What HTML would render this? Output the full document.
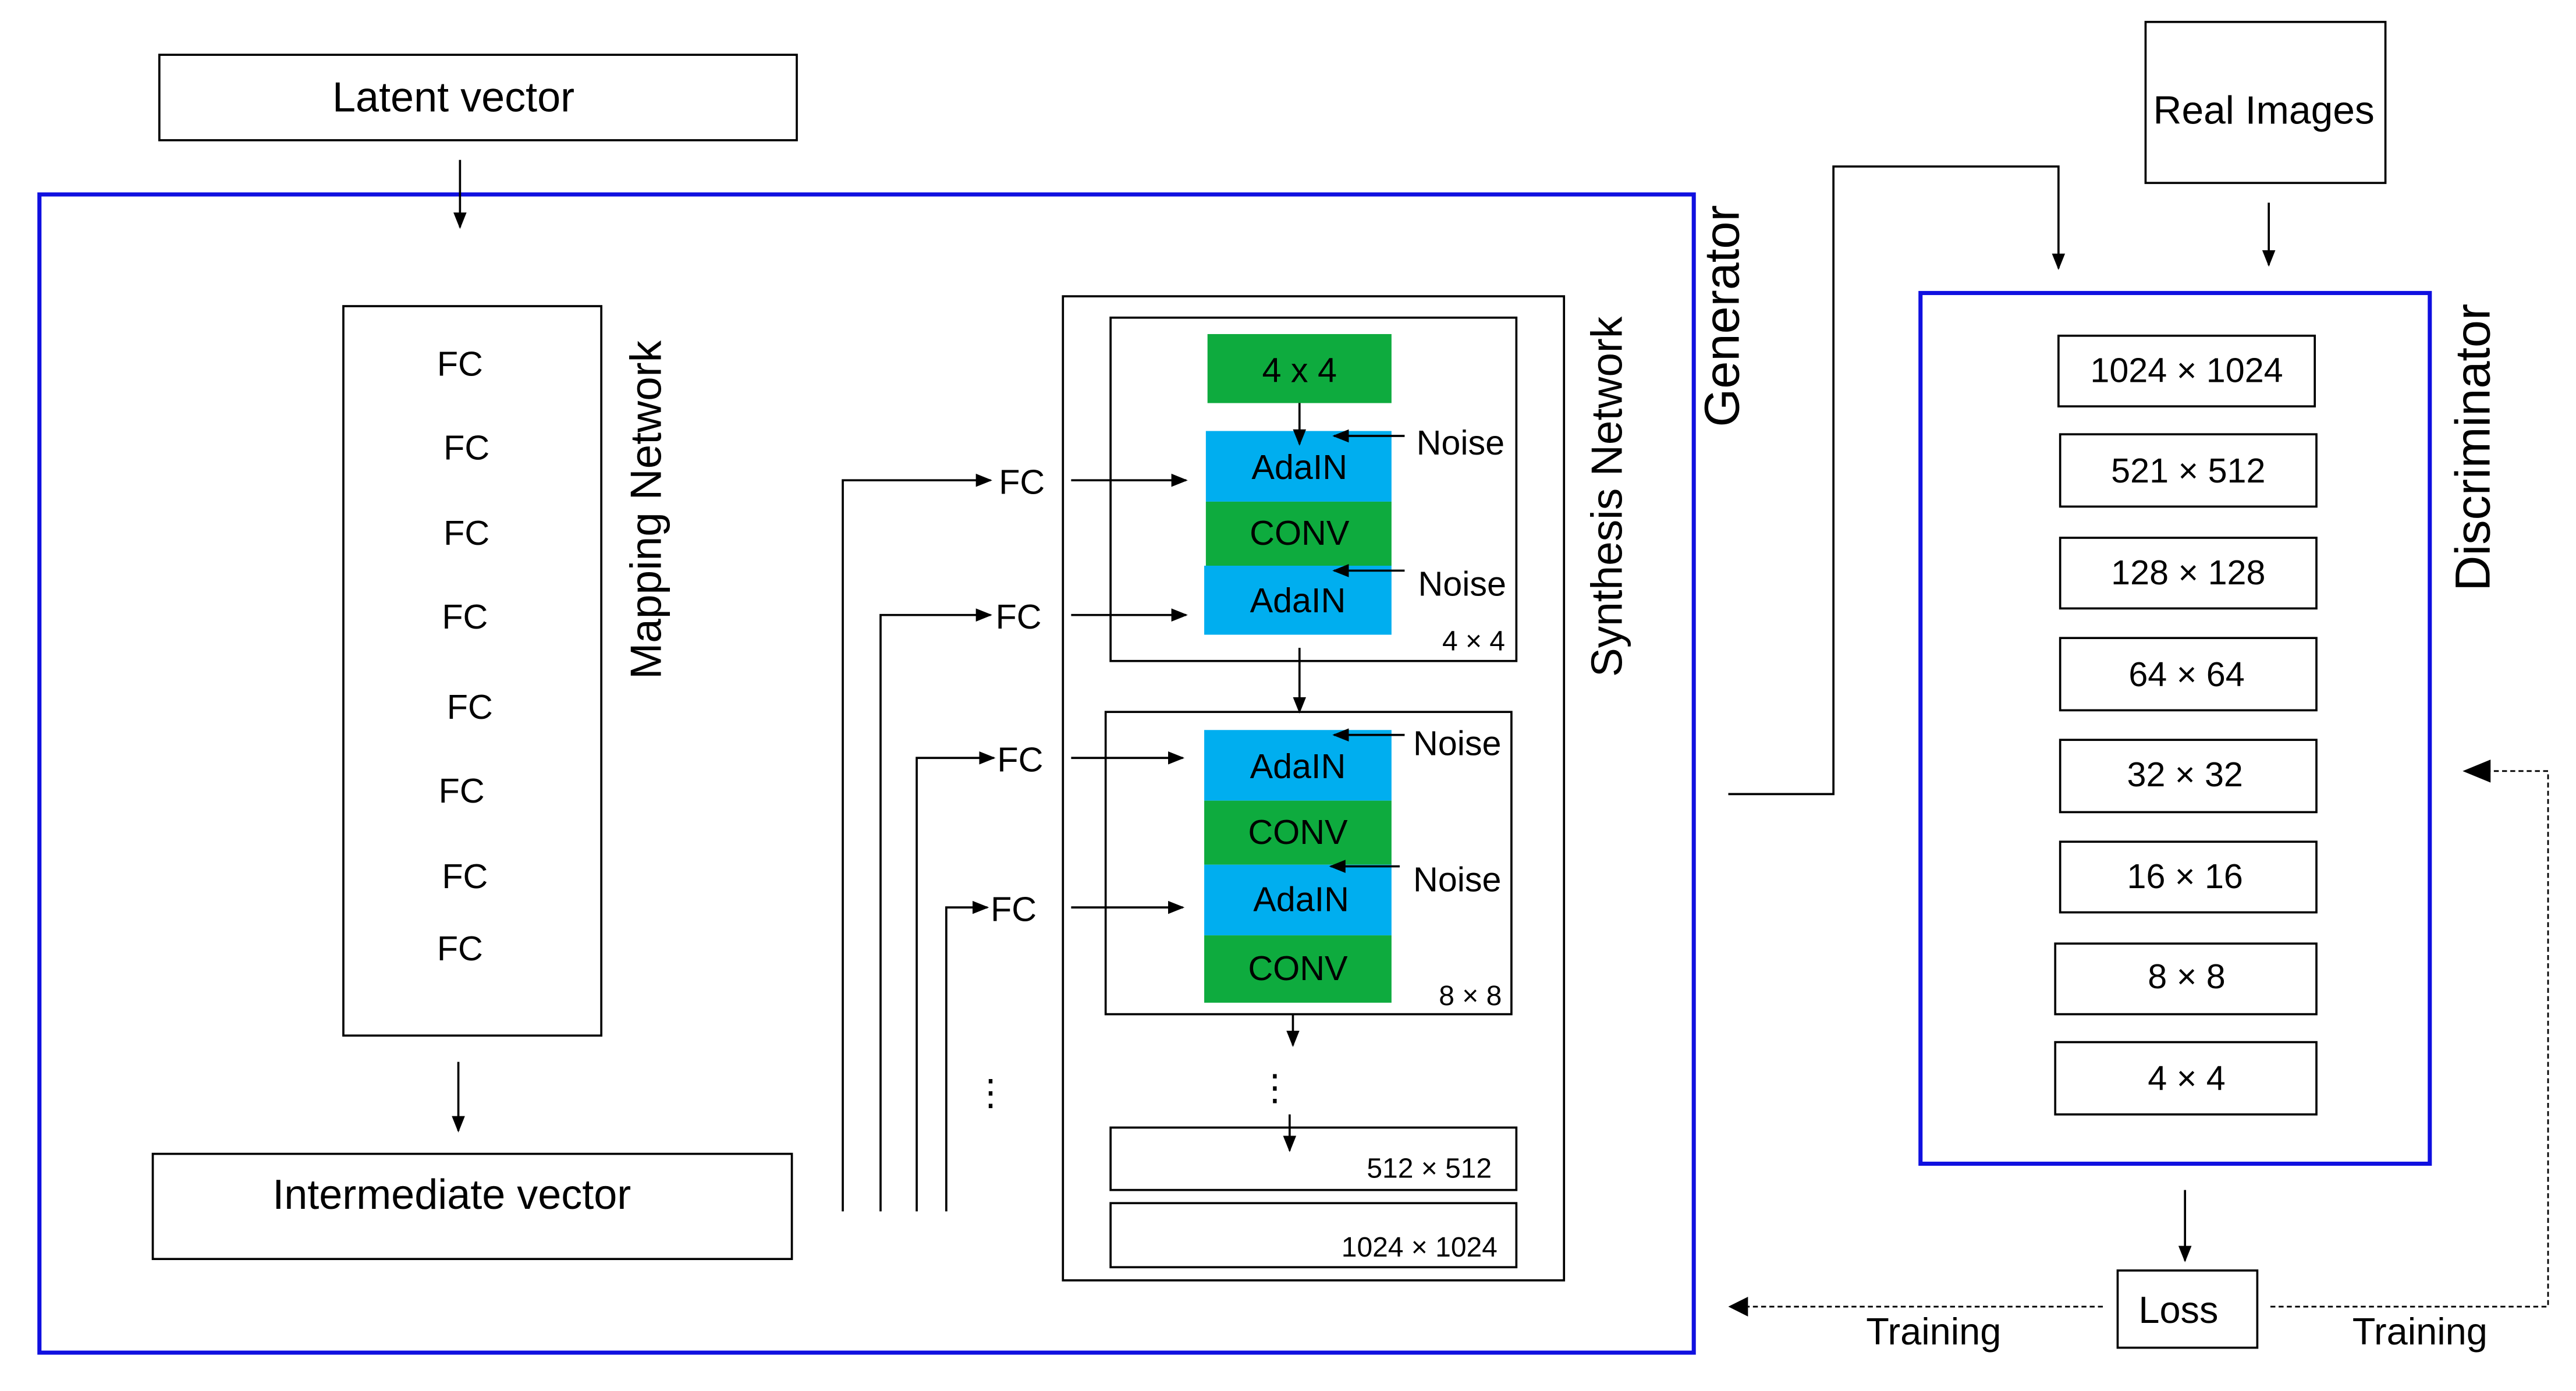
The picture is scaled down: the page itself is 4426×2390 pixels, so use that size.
<!DOCTYPE html>
<html><head><meta charset="utf-8"><style>
html,body{margin:0;padding:0;background:#fff;}
svg{display:block;}
text{font-family:"Liberation Sans",sans-serif;fill:#000;}
</style></head><body>
<svg width="4426" height="2390" viewBox="0 0 1568 846" xmlns="http://www.w3.org/2000/svg">
<defs>
<marker id="a" markerWidth="10" markerHeight="10" refX="9" refY="5" orient="auto" markerUnits="userSpaceOnUse"><path d="M0,1 L10,5 L0,9 z" fill="#000"/></marker>
</defs>
<g fill="none" stroke="#000" stroke-width="1.3">
<rect x="97" y="33" width="388" height="52"/>
<rect x="209" y="186" width="157" height="444"/>
<rect x="93" y="702" width="389" height="64"/>
<rect x="647" y="180" width="305" height="599"/>
<rect x="676" y="193" width="247" height="209"/>
<rect x="673" y="433" width="247" height="184"/>
<rect x="676" y="686" width="247" height="38"/>
<rect x="676" y="732" width="247" height="39"/>
<rect x="1306" y="13" width="146" height="98"/>
<rect x="1253" y="204" width="156" height="43"/>
<rect x="1254" y="264" width="156" height="44"/>
<rect x="1254" y="327" width="156" height="43"/>
<rect x="1254" y="388" width="156" height="44"/>
<rect x="1254" y="450" width="156" height="44"/>
<rect x="1254" y="512" width="156" height="43"/>
<rect x="1251" y="574" width="159" height="43"/>
<rect x="1251" y="634" width="159" height="44"/>
<rect x="1289" y="773" width="85" height="47"/>
</g>
<rect x="24" y="118" width="1007" height="705" fill="none" stroke="#1010e0" stroke-width="2.5"/>
<rect x="1169" y="178" width="310" height="530" fill="none" stroke="#1010e0" stroke-width="2.5"/>
<rect x="735" y="203" width="112" height="42" fill="#0eab3e"/>
<rect x="734" y="262" width="113" height="43" fill="#00aeef"/>
<rect x="734" y="305" width="113" height="39" fill="#0eab3e"/>
<rect x="733" y="344" width="114" height="42" fill="#00aeef"/>
<rect x="733" y="444" width="114" height="43" fill="#00aeef"/>
<rect x="733" y="487" width="114" height="39" fill="#0eab3e"/>
<rect x="733" y="526" width="114" height="43" fill="#00aeef"/>
<rect x="733" y="569" width="114" height="41" fill="#0eab3e"/>
<g stroke="#000" stroke-width="1.3" fill="none" marker-end="url(#a)">
<line x1="280" y1="97" x2="280" y2="138"/>
<line x1="279" y1="646" x2="279" y2="688"/>
<polyline points="513,737 513,292 603,292"/>
<polyline points="536,737 536,374 603,374"/>
<polyline points="558,737 558,461 605,461"/>
<polyline points="576,737 576,552 601,552"/>
<line x1="652" y1="292" x2="722" y2="292"/>
<line x1="652" y1="374" x2="722" y2="374"/>
<line x1="652" y1="461" x2="720" y2="461"/>
<line x1="652" y1="552" x2="720" y2="552"/>
<line x1="791" y1="245" x2="791" y2="270"/>
<line x1="855" y1="265" x2="812" y2="265"/>
<line x1="855" y1="347" x2="812" y2="347"/>
<line x1="791" y1="394" x2="791" y2="433"/>
<line x1="855" y1="447" x2="812" y2="447"/>
<line x1="852" y1="527" x2="810" y2="527"/>
<line x1="787" y1="617" x2="787" y2="636"/>
<line x1="785" y1="678" x2="785" y2="700"/>
<polyline points="1052,483 1116,483 1116,101 1253,101 1253,163"/>
<line x1="1381" y1="123" x2="1381" y2="161"/>
<line x1="1330" y1="724" x2="1330" y2="767"/>
</g>
<g stroke="#000" stroke-width="1" fill="none" stroke-dasharray="3,2">
<line x1="1280" y1="795" x2="1064" y2="795"/>
<polyline points="1382,795 1551,795 1551,469 1515,469"/>
</g>
<path d="M1052,795 L1064,789 L1064,801 z" fill="#000"/>
<path d="M1499,469 L1516,462 L1516,476 z" fill="#000"/>
<g font-size="25.5" text-anchor="middle" dominant-baseline="central">
<text x="276" y="59">Latent vector</text>
<text x="275" y="727">Intermediate vector</text>
</g>
<text x="1378" y="67" font-size="24" text-anchor="middle" dominant-baseline="central">Real Images</text>
<g font-size="21" text-anchor="middle" dominant-baseline="central">
<text x="280" y="221">FC</text><text x="284" y="272">FC</text><text x="284" y="324">FC</text><text x="283" y="375">FC</text>
<text x="286" y="430">FC</text><text x="281" y="481">FC</text><text x="283" y="533">FC</text><text x="280" y="577">FC</text>
<text x="622" y="293">FC</text><text x="620" y="375">FC</text><text x="621" y="462">FC</text><text x="617" y="553">FC</text>
<text x="603" y="665" font-size="22">⋮</text><text x="776" y="662" font-size="22">⋮</text>
<text x="791" y="225">4 x 4</text>
<text x="791" y="284">AdaIN</text><text x="791" y="324">CONV</text><text x="790" y="365">AdaIN</text>
<text x="790" y="466">AdaIN</text><text x="790" y="506">CONV</text><text x="792" y="547">AdaIN</text><text x="790" y="589">CONV</text>
<text x="889" y="269">Noise</text><text x="890" y="355">Noise</text><text x="887" y="452">Noise</text><text x="887" y="535">Noise</text>
<text x="1331" y="225">1024 × 1024</text><text x="1332" y="286">521 × 512</text><text x="1332" y="348">128 × 128</text>
<text x="1331" y="410">64 × 64</text><text x="1330" y="471">32 × 32</text><text x="1330" y="533">16 × 16</text>
<text x="1331" y="594">8 × 8</text><text x="1331" y="656">4 × 4</text>
<text x="1326" y="797" font-size="23">Loss</text>
<text x="1177" y="810" font-size="23">Training</text><text x="1473" y="810" font-size="23">Training</text>
</g>
<g font-size="17" text-anchor="middle" dominant-baseline="central">
<text x="897" y="390">4 × 4</text><text x="895" y="606">8 × 8</text>
<text x="870" y="711">512 × 512</text><text x="864" y="759">1024 × 1024</text>
</g>
<g text-anchor="middle" dominant-baseline="central">
<text font-size="26.5" transform="translate(393,310) rotate(-90)">Mapping Network</text>
<text font-size="26.5" transform="translate(978,302) rotate(-90)">Synthesis Network</text>
<text font-size="30" transform="translate(1048,192) rotate(-90)">Generator</text>
<text font-size="30" transform="translate(1505,272) rotate(-90)">Discriminator</text>
</g>
</svg>
</body></html>
